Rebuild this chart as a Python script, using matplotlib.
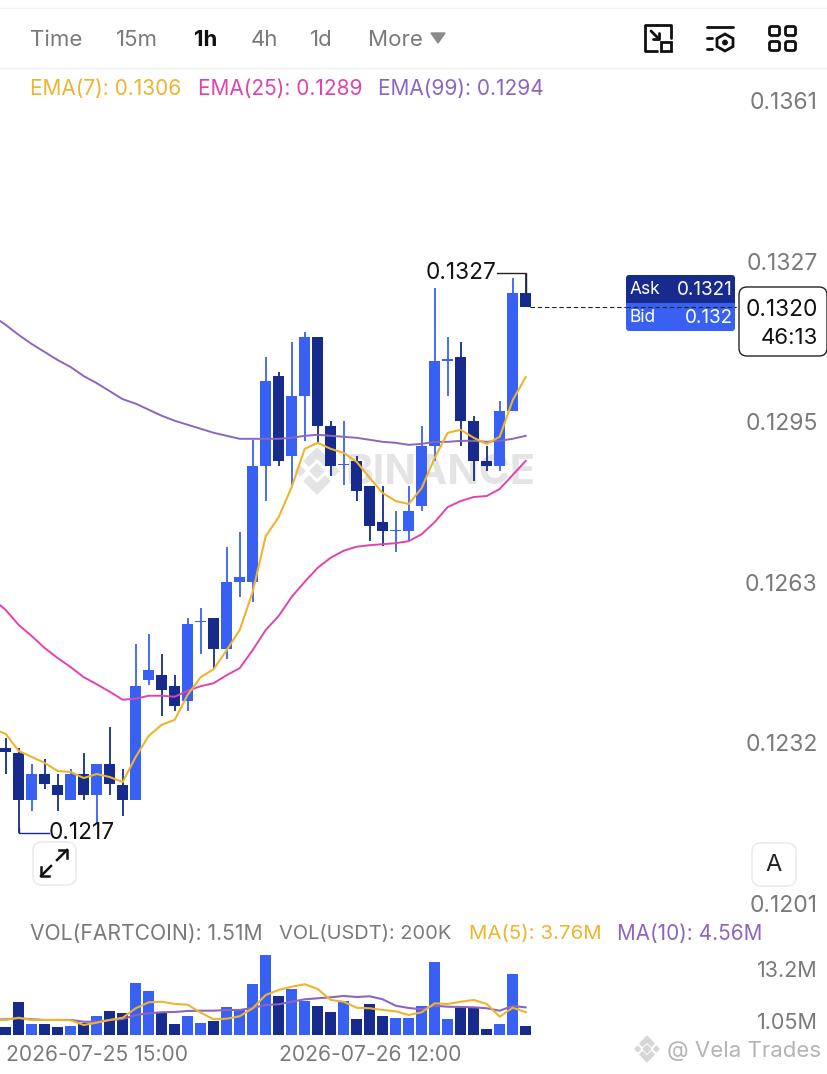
import matplotlib
matplotlib.use("Agg")
import matplotlib.pyplot as plt
from matplotlib.patches import FancyBboxPatch, Polygon, Rectangle, Circle
from matplotlib.transforms import ScaledTranslation

plt.rcParams['font.family'] = ['Inter', 'DejaVu Sans']

# candles, prices
opens = [.12318, .12309, .12215, .12267, .12245, .12215, .12267, .12225, .12287, .12245,
         .12215, .12454, .12464, .12442, .12413, .12569, .12578, .12516, .12650, .12650,
         .12881, .13060, .12901, .13020, .13138, .12961, .12882, .12891, .12841, .12769,
         .12751, .12751, .12801, .12921, .13090, .13098, .12971, .12891, .12881, .12991,
         .13226]
closes = [.12310, .12215, .12267, .12247, .12225, .12267, .12225, .12287, .12247, .12215,
          .12442, .12474, .12435, .12403, .12566, .12571, .12516, .12650, .12660, .12881,
          .13050, .12891, .13020, .13138, .12961, .12881, .12884, .12831, .12761, .12751,
          .12753, .12791, .12921, .13090, .13094, .12971, .12891, .12881, .12991, .13226,
          .13198]
highs = [.12339, .12319, .12287, .12297, .12267, .12277, .12309, .12287, .12361, .12277,
         .12526, .12546, .12506, .12464, .12578, .12598, .12578, .12720, .12749, .12933,
         .13098, .13068, .13128, .13148, .13138, .12971, .12971, .12901, .12841, .12841,
         .12791, .12841, .12961, .13236, .13138, .13128, .12981, .12921, .13010, .13256,
         .13266]
lows = [.12267, .12150, .12193, .12237, .12193, .12215, .12215, .12171, .12225, .12183,
        .12215, .12444, .12383, .12393, .12393, .12506, .12476, .12496, .12620, .12610,
        .12811, .12881, .12843, .12931, .12929, .12861, .12843, .12811, .12731, .12722,
        .12710, .12731, .12791, .12891, .13020, .12921, .12851, .12871, .12871, .12991,
        .13198]

# first value of each line is the candle just off the left edge
ema7 = [.12357, .12347, .12313, .12301, .12289, .12273, .12271, .12259, .12267, .12261, .12251,
        .12301, .12343, .12365, .12375, .12425, .12460, .12476, .12514, .12554, .12630,
        .12741, .12779, .12839, .12915, .12927, .12915, .12907, .12889, .12857, .12827,
        .12811, .12805, .12837, .12897, .12947, .12953, .12937, .12925, .12939, .13012,
        .13058]
ema25 = [.12616, .12594, .12564, .12542, .12518, .12498, .12480, .12460, .12446, .12431, .12415,
         .12417, .12423, .12423, .12421, .12433, .12442, .12448, .12464, .12478, .12514,
         .12554, .12582, .12620, .12650, .12678, .12698, .12712, .12720, .12723, .12725,
         .12727, .12731, .12745, .12769, .12799, .12811, .12819, .12821, .12835, .12863,
         .12891]
ema99 = [.13180, .13162, .13142, .13124, .13108, .13092, .13078, .13060, .13046, .13030, .13014,
         .13005, .12993, .12981, .12971, .12963, .12955, .12947, .12941, .12935, .12935,
         .12935, .12935, .12937, .12941, .12943, .12941, .12939, .12937, .12933, .12929,
         .12927, .12923, .12925, .12929, .12929, .12931, .12931, .12929, .12931, .12935,
         .12941]

# volume in millions
volumes = [1.27, 5.49, 1.77, 1.77, 1.37, 1.44, 1.93, 3.09, 3.91, 3.58, 8.63, 7.31, 3.58, 1.82,
           3.09, 2.03, 2.31, 4.57, 4.13, 8.37, 13.2, 6.44, 7.59, 5.66, 4.83, 3.75, 5.66, 2.64,
           5.07, 3.09, 2.76, 2.76, 4.83, 12.09, 2.69, 4.50, 4.50, 1.04, 1.77, 10.07, 1.51]
vol_ma5 = [2.4, 2.5, 2.85, 2.48, 2.48, 2.48, 2.43, 1.65, 2.03, 2.48, 2.85, 4.41, 5.40, 5.49, 5.12,
           5.0, 3.68, 2.59, 2.69, 3.09, 4.41, 6.6, 7.43, 7.97, 8.37, 7.59, 5.78, 5.49, 4.50,
           4.41, 4.13, 3.91, 3.3, 3.75, 5.23, 5.12, 5.49, 5.78, 5.12, 3.02, 4.50, 3.76]
vol_ma10 = [2.5, 2.59, 2.76, 2.59, 2.48, 2.48, 2.48, 2.19, 2.19, 2.48, 2.64, 3.3, 3.58, 3.75, 3.8,
            3.96, 4.01, 4.01, 4.13, 4.13, 4.46, 4.95, 5.07, 5.49, 5.89, 6.06, 6.22, 6.44, 6.27,
            6.39, 5.89, 4.83, 4.46, 4.24, 4.83, 4.67, 4.62, 4.57, 4.41, 4.01, 4.79, 4.56]

price_ticks = [.1201, .1233, .1265, .1297, .1329, .1361]
price_labels = ['0.1201', '0.1232', '0.1263', '0.1295', '0.1327', '0.1361']
date_ticks = [7, 28]
date_labels = ['2026-07-25 15:00', '2026-07-26 12:00']

LIGHT = '#3861F3'
DARK = '#162B8C'
YELLOW = '#EDB42E'
PINK = '#E044AC'
PURPLE = '#8C66BE'
GRAY = '#7A7A7A'
W, H = 828, 1074


def px_axes(left, top, right, bottom, **kw):
    return fig.add_axes([left / W, 1 - bottom / H, (right - left) / W, (bottom - top) / H], **kw)


def binance_logo(axis, cx, cy, s, color):
    chevron = [(0, -23), (13, -10), (8, -5), (0, -13), (-8, -5), (-13, -10)]
    for sign in (1, -1):
        axis.add_patch(Polygon([(cx + a * s, cy + sign * b * s) for a, b in chevron], color=color))
    for dx, r in [(-17, 5), (0, 7), (17, 5)]:
        mx = cx + dx * s
        axis.add_patch(Polygon([(mx, cy - r * s), (mx + r * s, cy), (mx, cy + r * s), (mx - r * s, cy)], color=color))


fig = plt.figure(figsize=(W / 100, H / 100), dpi=100, facecolor='white')

bg = px_axes(0, 0, W, H, zorder=0)
bg.set_xlim(0, W)
bg.set_ylim(H, 0)
bg.axis('off')

ax = px_axes(0, 68, W, 915, zorder=1)
vax = px_axes(0, 945, W, 1035, zorder=1)
top = px_axes(0, 0, W, H, zorder=2)
top.set_xlim(0, W)
top.set_ylim(H, 0)
top.axis('off')

x = list(range(len(opens)))
x_ema = list(range(-1, len(opens)))
xlim = (-5.7 / 13, (W - 5.7) / 13)
colors = [LIGHT if c >= o else DARK for o, c in zip(opens, closes)]

# price panel
ax.patch.set_alpha(0)
ax.vlines(x, lows, highs, colors=colors, lw=1.3, zorder=2)
ax.bar(x, [abs(c - o) for o, c in zip(opens, closes)], bottom=[min(o, c) for o, c in zip(opens, closes)],
       width=0.84, color=colors, zorder=3)
ax.plot(x_ema, ema99, color=PURPLE, lw=1.4, zorder=4)
ax.plot(x_ema, ema25, color=PINK, lw=1.4, zorder=4)
ax.plot(x_ema, ema7, color=YELLOW, lw=1.5, zorder=5)
ax.set_xlim(xlim)
ax.set_ylim(.11986, .13674)
ax.set_xticks([])
ax.yaxis.tick_right()
ax.set_yticks(price_ticks)
ax.set_yticklabels(price_labels, color=GRAY, fontsize=16.5, ha='right', va='center')
ax.tick_params(axis='y', length=0, pad=-7.5)
label_shift = ScaledTranslation(0, -0.03, fig.dpi_scale_trans)
for t in ax.get_yticklabels():
    t.set_transform(t.get_transform() + label_shift)
for s in ax.spines.values():
    s.set_visible(False)

# last price line and the high / low markers
ax.plot([40.3, 56.2], [closes[-1], closes[-1]], color='#222222', lw=0.8, ls=(0, (4, 2.5)), zorder=6)
ax.plot([37.8, 40, 40], [max(highs), max(highs), opens[-1]], color='#222222', lw=1, zorder=2)
ax.plot([1, 1, 3.3], [.1216, min(lows), min(lows)], color=DARK, lw=1, zorder=2)
ax.text(37.75, max(highs), '0.1327', ha='right', va='center', fontsize=16.3, color='#111111')
ax.text(3.3, min(lows), '0.1217', ha='left', va='center', fontsize=16.3, color='#111111')

# volume panel
vax.patch.set_alpha(0)
vax.bar(x, volumes, width=0.84, color=colors)
vax.plot(x_ema, vol_ma10, color=PURPLE, lw=1.5)
vax.plot(x_ema, vol_ma5, color=YELLOW, lw=1.5)
vax.set_xlim(xlim)
vax.set_ylim(0, 14.85)
vax.set_yticks([])
vax.set_xticks(date_ticks)
vax.set_xticklabels(date_labels, color=GRAY, fontsize=15.1)
vax.tick_params(axis='x', length=0, pad=7.5)
for s in vax.spines.values():
    s.set_visible(False)

# watermarks sit behind the candles
binance_logo(bg, 317, 471, 1.0, '#E4E4E4')
bg.text(345, 473, 'BINANCE', fontsize=30, fontweight='bold', color='#E4E4E4', va='center', ha='left')
binance_logo(bg, 647, 1049, 0.55, '#D6D6D6')
bg.text(667, 1051, '@ Vela Trades', fontsize=16, color='#B4B4B4', va='center', ha='left')

# header
top.plot([0, W], [8, 8], color='#F2F2F2', lw=1)
top.plot([0, W], [67.5, 67.5], color='#F0F0F0', lw=1)
for label, lx, col, wt in [('Time', 30, GRAY, 'normal'), ('15m', 116, GRAY, 'normal'), ('1h', 194, '#111111', 'bold'),
                           ('4h', 251, GRAY, 'normal'), ('1d', 310, GRAY, 'normal'), ('More', 368, GRAY, 'normal')]:
    top.text(lx, 40.5, label, fontsize=16, color=col, fontweight=wt, va='center', ha='left')
top.add_patch(Polygon([(431, 33), (445, 33), (438, 43)], color='#8A8A8A'))

# header icons
ic = dict(color='#111111', lw=2, solid_capstyle='round')
top.plot([657, 645, 645, 657], [51, 51, 25, 25], **ic)
top.plot([657, 671, 671], [25, 25, 38], **ic)
top.add_patch(Rectangle((661, 42), 10, 9, fc='none', ec='#111111', lw=2))
top.plot([651, 659], [31, 39], **ic)
top.plot([653, 659, 659], [39, 39, 33], **ic)
top.plot([707, 733], [27, 27], **ic)
top.plot([707, 712], [38, 38], **ic)
top.plot([707, 712], [49, 49], **ic)
top.add_patch(Polygon([(725, 34), (733, 38.5), (733, 46.5), (725, 51), (717, 46.5), (717, 38.5)],
                      fc='none', ec='#111111', lw=2))
top.add_patch(Circle((725, 42.5), 2.2, color='#111111'))
for gx in (769, 785):
    for gy in (26, 41):
        top.add_patch(FancyBboxPatch((gx + 1, gy + 1), 9, 8, boxstyle='round,pad=0.5,rounding_size=2',
                                     fc='none', ec='#111111', lw=2))

# legends
for label, lx, col in [('EMA(7): 0.1306', 30, YELLOW), ('EMA(25): 0.1289', 198, PINK), ('EMA(99): 0.1294', 378, PURPLE)]:
    top.text(lx, 89, label, fontsize=15, color=col, va='center', ha='left')
for label, lx, col, fs in [('VOL(FARTCOIN): 1.51M', 30, GRAY, 15.2), ('VOL(USDT): 200K', 279, GRAY, 14.4),
                           ('MA(5): 3.76M', 469, YELLOW, 14.7), ('MA(10): 4.56M', 617, PURPLE, 14.9)]:
    top.text(lx, 934, label, fontsize=fs, color=col, va='center', ha='left')
top.text(818, 971, '13.2M', fontsize=15.5, color=GRAY, va='center', ha='right')
top.text(818, 1023, '1.05M', fontsize=15.5, color=GRAY, va='center', ha='right')

# ask / bid box
top.add_patch(FancyBboxPatch((628, 277), 105, 30, boxstyle='round,pad=2,rounding_size=3', fc=DARK, ec='none', zorder=1))
top.add_patch(FancyBboxPatch((628, 307), 105, 22, boxstyle='round,pad=2,rounding_size=3', fc=LIGHT, ec='none', zorder=1))
top.add_patch(Rectangle((626, 303), 109, 4, fc=LIGHT, ec='none', zorder=1.1))
top.add_patch(Rectangle((626, 296), 109, 7, fc=DARK, ec='none', zorder=1.1))
top.text(630, 290, 'Ask', fontsize=12.5, color='white', va='center', ha='left')
top.text(733, 290, '0.1321', fontsize=13.6, color='white', va='center', ha='right')
top.text(630, 318, 'Bid', fontsize=12.5, color='white', va='center', ha='left')
top.text(733, 318, '0.132', fontsize=13.6, color='white', va='center', ha='right')
top.plot([626, 736], [307, 307], color='#222222', lw=0.8, ls=(0, (4, 2.5)), zorder=2)

# last price box
top.add_patch(FancyBboxPatch((743, 291), 80, 61, boxstyle='round,pad=4,rounding_size=8', fc='white', ec='#222222', lw=1))
top.text(818, 309.5, '0.1320', fontsize=16.4, color='#111111', va='center', ha='right')
top.text(818, 337.5, '46:13', fontsize=16, color='#111111', va='center', ha='right')

# buttons
top.add_patch(FancyBboxPatch((38, 847), 33, 33, boxstyle='round,pad=5,rounding_size=9', fc='white', ec='#EBEBEB', lw=1.2))
top.plot([41, 51], [876, 866], color='#111111', lw=1.8)
top.plot([41, 41, 49], [867, 876, 876], color='#111111', lw=1.8)
top.plot([57, 67], [860, 850], color='#111111', lw=1.8)
top.plot([59, 67, 67], [850, 850, 858], color='#111111', lw=1.8)
top.add_patch(FancyBboxPatch((757, 848), 34, 33, boxstyle='round,pad=5,rounding_size=9', fc='white', ec='#EBEBEB', lw=1.2))
top.text(774, 865, 'A', fontsize=17, color='#222222', va='center', ha='center')

fig.savefig('out.png', dpi=100)
